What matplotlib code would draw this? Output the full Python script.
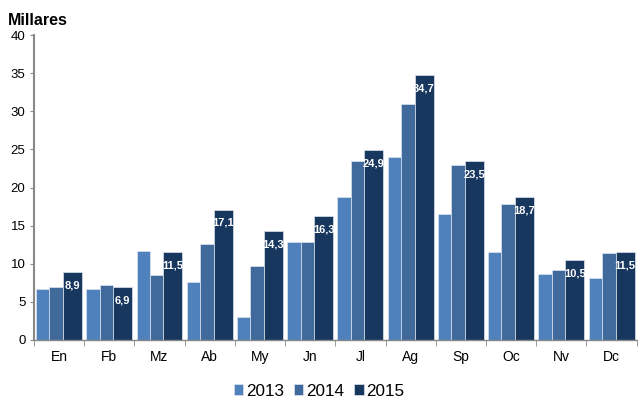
import matplotlib
matplotlib.use('Agg')
import matplotlib.pyplot as plt
import numpy as np

meses = ['En', 'Fb', 'Mz', 'Ab', 'My', 'Jn', 'Jl', 'Ag', 'Sp', 'Oc', 'Nv', 'Dc']
v2013 = [6.7, 6.7, 11.7, 7.6, 3.0, 12.9, 18.7, 24.0, 16.5, 11.5, 8.6, 8.1]
v2014 = [6.9, 7.2, 8.5, 12.6, 9.7, 12.8, 23.5, 30.9, 22.9, 17.8, 9.2, 11.4]
v2015 = [8.9, 6.9, 11.5, 17.1, 14.3, 16.3, 24.9, 34.7, 23.5, 18.7, 10.5, 11.5]

plt.rcParams['font.family'] = ['Liberation Sans', 'DejaVu Sans']

fig = plt.figure(figsize=(6.38, 4.0), dpi=100)
ax = fig.add_axes([0.053, 0.15, 0.945, 0.7625])

x = np.arange(len(meses))
# anchos distintos como en el original (la serie 2015 es mas ancha)
w13, w14, w15 = 0.264, 0.272, 0.377
x0 = x - 0.5 + 0.044
c13, c14, c15 = '#4F81BD', '#40699C', '#17375E'
ec = '#dce4ee'
ax.bar(x0, v2013, w13, align='edge', color=c13, edgecolor=ec, linewidth=0.5, label='2013')
ax.bar(x0 + w13, v2014, w14, align='edge', color=c14, edgecolor=ec, linewidth=0.5, label='2014')
ax.bar(x0 + w13 + w14, v2015, w15, align='edge', color=c15, edgecolor=ec, linewidth=0.5, label='2015')

for i, v in enumerate(v2015):
    ax.annotate(f'{v:.1f}'.replace('.', ','), (x0[i] + w13 + w14 + w15 / 2, v), xytext=(0, -6),
                textcoords='offset points', ha='center', va='top',
                color='white', fontsize=8, fontweight='bold')

ax.set_xlim(-0.5, 11.5)
ax.set_ylim(0, 40)
ax.set_yticks(range(0, 41, 5))
ax.set_xticks(x)
ax.set_xticklabels(meses, fontsize=10)
ax.set_xticks(np.arange(-0.5, 12, 1), minor=True)
ax.tick_params(axis='x', which='major', length=0, pad=7)
ax.tick_params(axis='x', which='minor', length=4, color='#888888')
ax.tick_params(axis='y', length=3, color='#888888', labelsize=9.5, pad=3)

for s in ['top', 'right']:
    ax.spines[s].set_visible(False)
ax.spines['left'].set_color('#888888')
ax.spines['bottom'].set_color('#888888')
ax.spines['left'].set_linewidth(1.5)
ax.spines['bottom'].set_linewidth(1.0)

fig.text(0.012, 0.93, 'Millares', fontsize=11.5, fontweight='bold', ha='left', va='bottom')

fig.legend(loc='lower center', bbox_to_anchor=(0.5, -0.035), ncol=3, frameon=False,
           fontsize=12.3, handlelength=0.55, handleheight=0.55, handletextpad=0.15,
           columnspacing=0.6)

fig.savefig('out.png', dpi=100)
